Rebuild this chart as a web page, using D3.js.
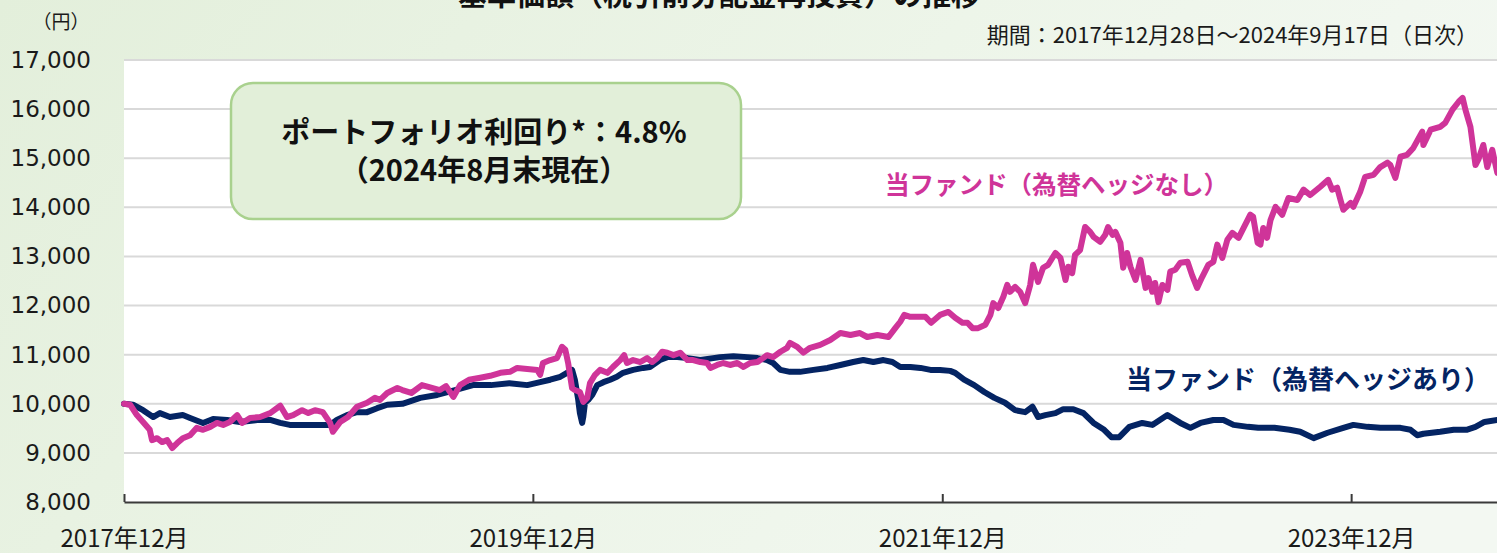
<!DOCTYPE html>
<html lang="ja">

<head>
    <meta charset="UTF-8">
    <title>基準価額の推移</title>
    <script src="https://d3js.org/d3.v7.min.js"></script>
    <style>
        body { margin: 0; overflow: hidden; }
        svg { display: block; }
    </style>
</head>

<body>
    <script>
        var w = 1497; // width of the svg
        var h = 553;  // height of the svg

        // first day of the series; the series are kept as days since this date
        var startDate = new Date(2017, 11, 28);
        var endDate = new Date(2024, 8, 17);

        var yTicks = [8000, 9000, 10000, 11000, 12000, 13000, 14000, 15000, 16000, 17000];
        var xTickDates = ["2017-12-28", "2019-12-28", "2021-12-28", "2023-12-28"];
        var xTickLabels = ["2017年12月", "2019年12月", "2021年12月", "2023年12月"];

        // 当ファンド（為替ヘッジなし）
        var unhedgedDays = [0, 11, 23, 34, 46, 50, 59, 68, 77, 86, 95, 105, 118, 130, 141, 154, 166, 177, 189, 202,
            211, 225, 243, 261, 279, 291, 302, 318, 329, 341, 355, 368, 373, 386, 400, 416, 434, 448, 457, 470,
            488, 497, 513, 532, 545, 564, 575, 588, 600, 616, 636, 654, 672, 689, 702, 720, 738, 743, 748, 761,
            773, 782, 788, 793, 800, 805, 814, 820, 827, 832, 841, 850, 863, 873, 886, 893, 898, 909, 922, 934,
            943, 952, 961, 970, 981, 993, 1006, 1016, 1029, 1041, 1047, 1059, 1070, 1082, 1095, 1106, 1118, 1131, 1141, 1148,
            1159, 1172, 1184, 1189, 1202, 1213, 1225, 1243, 1261, 1279, 1297, 1314, 1327, 1345, 1365, 1377, 1386, 1393, 1404, 1431,
            1441, 1457, 1472, 1484, 1497, 1506, 1515, 1525, 1538, 1547, 1552, 1561, 1570, 1577, 1582, 1591, 1600, 1609, 1618, 1623,
            1632, 1641, 1650, 1663, 1672, 1681, 1686, 1693, 1698, 1707, 1716, 1725, 1731, 1743, 1752, 1757, 1765, 1770, 1779, 1784,
            1791, 1797, 1806, 1815, 1824, 1829, 1836, 1841, 1847, 1854, 1863, 1868, 1877, 1886, 1899, 1907, 1916, 1925, 1936, 1945,
            1952, 1961, 1970, 1979, 1990, 1999, 2011, 2016, 2024, 2029, 2034, 2041, 2047, 2056, 2068, 2079, 2095, 2106, 2118, 2136,
            2150, 2157, 2166, 2172, 2177, 2190, 2195, 2207, 2216, 2231, 2243, 2256, 2261, 2270, 2279, 2291, 2302, 2318, 2320, 2333,
            2350, 2359, 2372, 2383, 2390, 2395, 2404, 2413, 2418, 2427, 2434, 2443, 2452, 2455];
        var unhedgedValues = [10000, 9980, 9770, 9630, 9470, 9260, 9300, 9220, 9260, 9100, 9200, 9300, 9360, 9510, 9470, 9530, 9610, 9570, 9630, 9770,
            9610, 9710, 9730, 9810, 9960, 9730, 9770, 9870, 9810, 9870, 9830, 9610, 9430, 9630, 9730, 9940, 10020, 10120, 10080, 10220,
            10320, 10280, 10220, 10380, 10340, 10280, 10360, 10140, 10380, 10490, 10530, 10570, 10630, 10650, 10730, 10710, 10690, 10590, 10830, 10890,
            10930, 11160, 11100, 10830, 10320, 10280, 10240, 10040, 10120, 10420, 10590, 10690, 10630, 10750, 10890, 10990, 10830, 10890, 10850, 10930,
            10850, 10930, 11060, 11040, 10990, 11040, 10890, 10890, 10850, 10830, 10730, 10790, 10830, 10790, 10830, 10750, 10830, 10850, 10930, 10990,
            10950, 11060, 11140, 11240, 11160, 11040, 11140, 11200, 11300, 11440, 11400, 11440, 11360, 11400, 11360, 11540, 11670, 11810, 11770, 11770,
            11650, 11810, 11870, 11750, 11650, 11650, 11540, 11540, 11610, 11810, 12050, 11950, 12180, 12420, 12280, 12380, 12280, 12050, 12420, 12830,
            12480, 12770, 12830, 13070, 12970, 12520, 12790, 12660, 13030, 13130, 13600, 13500, 13400, 13300, 13440, 13600, 13440, 13500, 13280, 12770,
            13070, 12790, 12520, 12930, 12360, 12560, 12280, 12460, 12070, 12420, 12320, 12690, 12730, 12870, 12890, 12620, 12360, 12580, 12830, 12890,
            13240, 12970, 13340, 13480, 13380, 13580, 13850, 13810, 13280, 13240, 13580, 13380, 13740, 14010, 13850, 14190, 14150, 14360, 14250, 14420,
            14560, 14360, 14400, 14150, 13950, 14090, 14010, 14310, 14620, 14660, 14820, 14910, 14860, 14600, 15030, 15070, 15210, 15540, 15270, 15580,
            15640, 15720, 15990, 16150, 16230, 15990, 15640, 14860, 14970, 15270, 14820, 15170, 14700, 14740];

        // 当ファンド（為替ヘッジあり）
        var hedgedDays = [0, 16, 34, 52, 64, 82, 105, 118, 141, 159, 184, 207, 238, 261, 279, 296, 320, 345, 368, 380,
            398, 416, 434, 452, 470, 497, 529, 559, 591, 623, 655, 688, 720, 743, 761, 779, 791, 800, 805, 811,
            814, 818, 820, 823, 829, 836, 845, 856, 868, 880, 891, 909, 927, 939, 957, 970, 988, 1006, 1029, 1052,
            1064, 1088, 1113, 1131, 1148, 1159, 1172, 1189, 1207, 1231, 1256, 1279, 1302, 1320, 1338, 1356, 1372, 1386, 1404, 1422,
            1440, 1457, 1475, 1484, 1500, 1518, 1536, 1554, 1573, 1591, 1609, 1622, 1632, 1645, 1663, 1677, 1695, 1713, 1731, 1750,
            1763, 1777, 1795, 1818, 1836, 1863, 1886, 1904, 1922, 1945, 1963, 1981, 2007, 2025, 2054, 2081, 2100, 2124, 2149, 2177,
            2195, 2220, 2243, 2279, 2297, 2309, 2320, 2350, 2374, 2397, 2413, 2429, 2452, 2455];
        var hedgedValues = [10000, 9980, 9870, 9730, 9810, 9730, 9770, 9710, 9610, 9690, 9670, 9630, 9670, 9670, 9610, 9570, 9570, 9570, 9570, 9670,
            9770, 9830, 9830, 9910, 9980, 10000, 10120, 10180, 10280, 10380, 10380, 10420, 10380, 10440, 10490, 10550, 10630, 10690, 10490, 10080,
            9810, 9610, 9730, 10020, 10080, 10180, 10380, 10440, 10490, 10550, 10630, 10690, 10730, 10750, 10890, 10950, 10950, 10930, 10890, 10930,
            10950, 10970, 10950, 10930, 10890, 10830, 10690, 10650, 10650, 10690, 10730, 10790, 10850, 10890, 10850, 10890, 10850, 10750, 10750, 10730,
            10690, 10690, 10670, 10630, 10490, 10380, 10240, 10120, 10020, 9870, 9830, 9940, 9730, 9770, 9810, 9890, 9890, 9810, 9610, 9470,
            9320, 9320, 9530, 9610, 9570, 9770, 9610, 9510, 9610, 9670, 9670, 9570, 9530, 9510, 9510, 9470, 9430, 9300, 9410, 9510,
            9570, 9530, 9510, 9510, 9470, 9360, 9390, 9430, 9470, 9470, 9530, 9630, 9670, 9670];

        var pink = "#cf3499";
        var navy = "#042463";

        var svg = d3.select("body")
            .append("svg")
            .attr("width", w)
            .attr("height", h);

        // soft green background
        var defs = svg.append("defs");
        var grad = defs.append("linearGradient")
            .attr("id", "bg")
            .attr("x1", "0%").attr("y1", "0%")
            .attr("x2", "100%").attr("y2", "30%");
        grad.append("stop").attr("offset", "0%").attr("stop-color", "#e3efdb");
        grad.append("stop").attr("offset", "60%").attr("stop-color", "#edf5e9");
        grad.append("stop").attr("offset", "100%").attr("stop-color", "#f3f8f2");

        svg.append("rect")
            .attr("width", w)
            .attr("height", h)
            .attr("fill", "url(#bg)");

        var xScale = d3.scaleTime()
            .domain([startDate, endDate])
            .range([124, 1499]);

        var yScale = d3.scaleLinear()
            .domain([8000, 17000])
            .range([502, 60]);

        function dayToDate(d) {
            return d3.timeDay.offset(startDate, d);
        }

        // white plot area
        svg.append("rect")
            .attr("x", xScale.range()[0])
            .attr("y", yScale(17000))
            .attr("width", w - xScale.range()[0])
            .attr("height", yScale(8000) - yScale(17000))
            .attr("fill", "#ffffff");

        // horizontal grid lines
        svg.selectAll(".grid")
            .data(yTicks.filter(function (d) { return d > 8000; }))
            .enter()
            .append("line")
            .attr("class", "grid")
            .attr("x1", xScale.range()[0])
            .attr("x2", w)
            .attr("y1", function (d) { return yScale(d); })
            .attr("y2", function (d) { return yScale(d); })
            .attr("stroke", "#d9d9d9")
            .attr("stroke-width", 2);

        // y axis labels
        var yAxis = d3.axisLeft(yScale)
            .tickValues(yTicks)
            .tickFormat(d3.format(","))
            .tickSize(0)
            .tickPadding(33);

        var gy = svg.append("g")
            .attr("transform", "translate(" + xScale.range()[0] + ",0)")
            .call(yAxis);
        gy.select(".domain").remove();
        gy.selectAll("text")
            .attr("font-family", "'DejaVu Sans', Verdana, sans-serif")
            .attr("font-size", "23px")
            .attr("fill", "#1a1a1a");

        // x axis, ticks point up into the plot
        var tickDates = xTickDates.map(function (s) { return d3.timeParse("%Y-%m-%d")(s); });
        var xAxis = d3.axisBottom(xScale)
            .tickValues(tickDates)
            .tickFormat(function (d, i) { return xTickLabels[i]; })
            .tickSizeInner(-8)
            .tickSizeOuter(0)
            .tickPadding(28);

        var gx = svg.append("g")
            .attr("transform", "translate(0," + yScale(8000) + ")")
            .call(xAxis);
        gx.select(".domain")
            .attr("stroke", "#3a3a3a")
            .attr("stroke-width", 2);
        gx.selectAll(".tick line")
            .attr("stroke", "#3a3a3a")
            .attr("stroke-width", 2);
        gx.selectAll("text")
            .attr("font-family", "'Noto Sans CJK JP', sans-serif")
            .attr("font-size", "24px")
            .attr("fill", "#1a1a1a");

        // lines
        var line = d3.line()
            .x(function (d) { return xScale(dayToDate(d[0])); })
            .y(function (d) { return yScale(d[1]); });

        var hedged = d3.zip(hedgedDays, hedgedValues);
        var unhedged = d3.zip(unhedgedDays, unhedgedValues);

        svg.append("path")
            .datum(hedged)
            .attr("d", line)
            .attr("fill", "none")
            .attr("stroke", navy)
            .attr("stroke-width", 6)
            .attr("stroke-linejoin", "round")
            .attr("stroke-linecap", "round");

        svg.append("path")
            .datum(unhedged)
            .attr("d", line)
            .attr("fill", "none")
            .attr("stroke", pink)
            .attr("stroke-width", 6)
            .attr("stroke-linejoin", "round")
            .attr("stroke-linecap", "round");

        // series labels
        svg.append("text")
            .text("当ファンド（為替ヘッジなし）")
            .attr("x", 885)
            .attr("y", 194)
            .attr("font-family", "'Noto Sans CJK JP', sans-serif")
            .attr("font-weight", "bold")
            .attr("font-size", "24.5px")
            .attr("fill", pink);

        svg.append("text")
            .text("当ファンド（為替ヘッジあり）")
            .attr("x", 1490)
            .attr("y", 389)
            .attr("text-anchor", "end")
            .attr("font-family", "'Noto Sans CJK JP', sans-serif")
            .attr("font-weight", "bold")
            .attr("font-size", "26px")
            .attr("fill", navy);

        // yield box
        svg.append("rect")
            .attr("x", 231)
            .attr("y", 83)
            .attr("width", 510)
            .attr("height", 136)
            .attr("rx", 22)
            .attr("fill", "#e2efd9")
            .attr("stroke", "#a9d18e")
            .attr("stroke-width", 2.5);

        svg.append("text")
            .text("ポートフォリオ利回り*：4.8%")
            .attr("x", 484)
            .attr("y", 143)
            .attr("text-anchor", "middle")
            .attr("font-family", "'Noto Sans CJK JP', sans-serif")
            .attr("font-weight", "bold")
            .attr("font-size", "29px")
            .attr("fill", "#111");

        svg.append("text")
            .text("（2024年8月末現在）")
            .attr("x", 484)
            .attr("y", 181)
            .attr("text-anchor", "middle")
            .attr("font-family", "'Noto Sans CJK JP', sans-serif")
            .attr("font-weight", "bold")
            .attr("font-size", "29px")
            .attr("fill", "#111");

        // title: only its lower edge shows at the top of the picture
        svg.append("text")
            .text("基準価額（税引前分配金再投資）の推移")
            .attr("x", 458)
            .attr("y", 6)
            .attr("font-family", "'Noto Sans CJK JP', sans-serif")
            .attr("font-weight", "bold")
            .attr("font-size", "29px")
            .attr("fill", "#111");

        svg.append("text")
            .text("期間：2017年12月28日～2024年9月17日（日次）")
            .attr("x", 1478)
            .attr("y", 43)
            .attr("text-anchor", "end")
            .attr("font-family", "'Noto Sans CJK JP', sans-serif")
            .attr("font-size", "22px")
            .attr("fill", "#1a1a1a");

        svg.append("text")
            .text("（円）")
            .attr("x", 61)
            .attr("y", 29)
            .attr("text-anchor", "middle")
            .attr("font-family", "'Noto Sans CJK JP', sans-serif")
            .attr("font-size", "19px")
            .attr("fill", "#1a1a1a");
    </script>
</body>

</html>
